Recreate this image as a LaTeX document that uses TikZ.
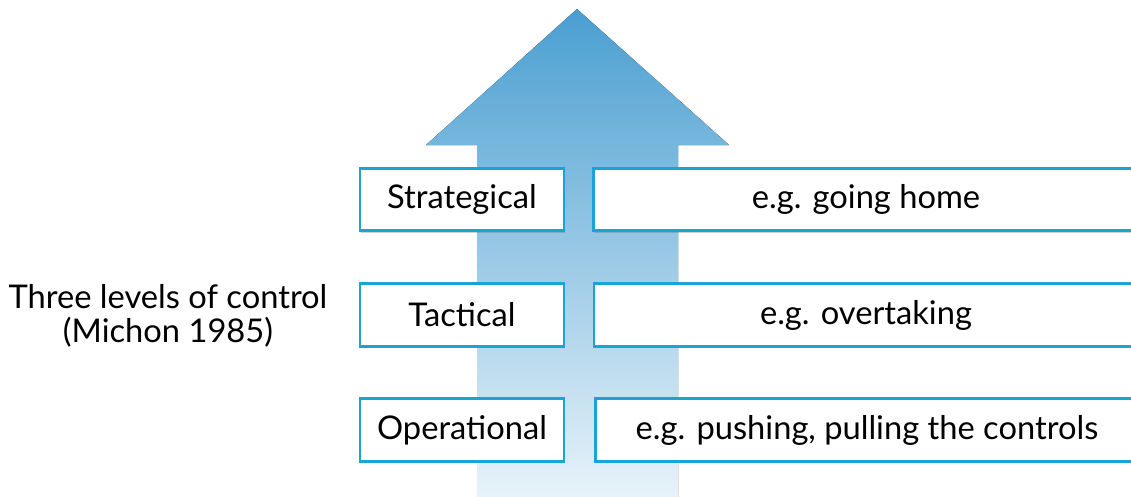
\documentclass[tikz,border=0pt]{standalone}
\usepackage{fontspec}
\setmainfont{Lato}
\usetikzlibrary{shadows}
\definecolor{boxblue}{HTML}{1AA3D6}
\definecolor{arrtop}{HTML}{4A9FD1}
\definecolor{arrbot}{HTML}{E9F3FA}
\tikzset{
  lvlbox/.style={draw=boxblue, line width=2.2pt, fill=white, minimum height=47pt,
    inner sep=0pt, font=\fontsize{24.5}{28}\selectfont,
    drop shadow={shadow xshift=0.8pt, shadow yshift=-1.5pt, opacity=0.3, fill=black!60}},
  lbl/.style={font=\fontsize{24.5}{25.5}\selectfont, align=center, inner sep=0pt}
}
\begin{document}
\begin{tikzpicture}[x=0.75pt, y=-0.75pt]
\useasboundingbox (0,0) rectangle (1131,496);
\clip (0,0) rectangle (1131,496);
\fill[white] (0,0) rectangle (1131,496);
% arrow
\fill[top color=arrtop, bottom color=arrbot]
  (577,9) -- (729,145) -- (678,145) -- (678,500) -- (477,500) -- (477,145) -- (426,145) -- cycle;
% left boxes
\node[lvlbox, minimum width=153pt] (strat) at (462,199.5) {Strategical};
\node[lvlbox, minimum width=153pt] (tact) at (462,315) {Tactical};
\node[lvlbox, minimum width=153pt] (oper) at (462,430) {Operational};
% right boxes
\node[lvlbox, minimum width=409pt] (stratx) at (866,199.5) {e.g. going home};
\node[lvlbox, minimum width=408pt] (tactx) at (866,315) {e.g. overtaking};
\node[lvlbox, minimum width=407pt] (operx) at (867,430) {e.g. pushing, pulling the controls};
% label
\node[lbl] (title) at (168,316) {Three levels of control\\(Michon 1985)};
\end{tikzpicture}
\end{document}
